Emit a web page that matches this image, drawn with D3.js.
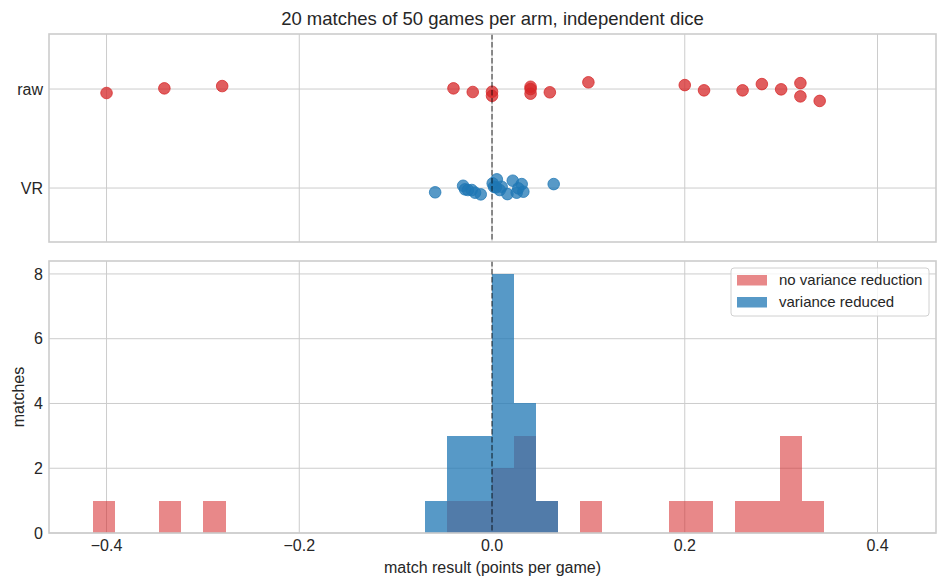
<!DOCTYPE html>
<html>
<head>
<meta charset="utf-8">
<script src="https://cdn.jsdelivr.net/npm/d3@7"></script>
<style>
  body { margin: 0; background: #fff; }
  svg text { font-family: "Liberation Sans", Arial, sans-serif; fill: #262626; }
</style>
</head>
<body>
<svg id="chart"></svg>
<script>
(function (d3) {

    /***** Data *****/
    // match results, points per game
    var rawValues = [-0.40, -0.34, -0.28, -0.04, -0.02, 0.00, 0.00, 0.04, 0.04, 0.04,
                     0.06, 0.10, 0.20, 0.22, 0.26, 0.28, 0.30, 0.32, 0.32, 0.34];
    var rawJitter = [-0.040, 0.007, 0.030, 0.007, -0.030, -0.027, -0.068, 0.023, 0.000, -0.047,
                     -0.033, 0.068, 0.040, -0.013, -0.013, 0.050, -0.003, 0.060, -0.074, -0.120];
    var vrValues = [-0.059, -0.030, -0.028, -0.025, -0.021, -0.0176, -0.0117, 0.0007, 0.005, 0.002,
                    0.004, 0.010, 0.0215, 0.016, 0.008, 0.0256, 0.0308, 0.0325, 0.0273, 0.064];
    var vrJitter = [-0.043, 0.023, -0.013, -0.020, -0.020, -0.047, -0.064, 0.047, 0.088, 0.013,
                    0.007, 0.013, 0.074, -0.061, -0.020, -0.047, 0.040, -0.037, -0.003, 0.040];
    var stripCategories = ["VR", "raw"];
    var xTicks = [-0.4, -0.2, 0.0, 0.2, 0.4];
    var countTicks = [0, 2, 4, 6, 8];
    var binLo = -0.4145, binWidth = 0.023, binCount = 33;
    var legendLabels = ["no variance reduction", "variance reduced"];

    /***** Configuration *****/
    var width = 947, height = 587;
    var plotLeft = 49, plotRight = 936;
    var top1 = 34, bottom1 = 242;
    var top2 = 261, bottom2 = 533;
    var red = "#d62728", blue = "#1f77b4";
    var gridColor = "#cccccc";
    var tickFont = "16px";

    var svg = d3.select("#chart").attr("width", width).attr("height", height);

    /***** Scales *****/
    var x = d3.scaleLinear().domain([-0.4597, 0.4607]).range([plotLeft, plotRight]);
    var yStrip = d3.scaleLinear().domain([-0.545, 1.556]).range([bottom1, top1]);
    var yCount = d3.scaleLinear().domain([0, 8.4]).range([bottom2, top2]);
    var fmt = function (v) { return d3.format(".1f")(v).replace("-", "\u2212"); };

    /***** Helpers *****/
    function drawFrame(top, bottom, yScale, yTickValues, yLabel) {
        var g = svg.append("g");
        g.selectAll("line.vgrid").data(xTicks).enter().append("line")
            .attr("x1", function (d) { return x(d); }).attr("x2", function (d) { return x(d); })
            .attr("y1", top).attr("y2", bottom)
            .attr("stroke", gridColor).attr("stroke-width", 1);
        g.selectAll("line.hgrid").data(yTickValues).enter().append("line")
            .attr("x1", plotLeft).attr("x2", plotRight)
            .attr("y1", function (d) { return yScale(d); }).attr("y2", function (d) { return yScale(d); })
            .attr("stroke", gridColor).attr("stroke-width", 1);
        g.selectAll("text.ytick").data(yTickValues).enter().append("text")
            .attr("x", plotLeft - 6)
            .attr("y", function (d) { return yScale(d); })
            .attr("dy", "0.35em").attr("text-anchor", "end")
            .style("font-size", tickFont)
            .text(yLabel);
        return g;
    }

    function drawBorder(top, bottom) {
        svg.append("rect")
            .attr("x", plotLeft).attr("y", top)
            .attr("width", plotRight - plotLeft).attr("height", bottom - top)
            .attr("fill", "none").attr("stroke", gridColor).attr("stroke-width", 1.6);
    }

    function drawZeroLine(top, bottom) {
        svg.append("line")
            .attr("x1", x(0)).attr("x2", x(0)).attr("y1", top).attr("y2", bottom)
            .attr("stroke", "#000").attr("stroke-opacity", 0.5)
            .attr("stroke-width", 1.6).attr("stroke-dasharray", "5.5,2.5");
    }

    /***** Top: strip plot *****/
    drawFrame(top1, bottom1, yStrip, [0, 1], function (d) { return stripCategories[d]; });

    function drawStrip(values, jitter, level, color) {
        svg.append("g").selectAll("circle").data(values).enter().append("circle")
            .attr("cx", function (d) { return x(d); })
            .attr("cy", function (d, i) { return yStrip(level + jitter[i]); })
            .attr("r", 5.8)
            .attr("fill", color).attr("fill-opacity", 0.75)
            .attr("stroke", color).attr("stroke-opacity", 0.75).attr("stroke-width", 1);
    }
    drawStrip(rawValues, rawJitter, 1, red);
    drawStrip(vrValues, vrJitter, 0, blue);
    drawZeroLine(top1, bottom1);
    drawBorder(top1, bottom1);

    svg.append("text")
        .attr("x", (plotLeft + plotRight) / 2).attr("y", 25)
        .attr("text-anchor", "middle")
        .style("font-size", "18.5px")
        .text("20 matches of 50 games per arm, independent dice");

    /***** Bottom: histogram *****/
    drawFrame(top2, bottom2, yCount, countTicks, function (d) { return d; });

    var thresholds = d3.range(binCount + 1).map(function (i) { return binLo + i * binWidth; });
    var bin = d3.bin().domain([thresholds[0], thresholds[binCount]]).thresholds(thresholds.slice(1, -1));

    function drawHist(values, color, opacity) {
        var bins = bin(values).filter(function (b) { return b.length > 0; });
        svg.append("g").selectAll("rect").data(bins).enter().append("rect")
            .attr("x", function (b) { return x(b.x0); })
            .attr("width", function (b) { return x(b.x1) - x(b.x0); })
            .attr("y", function (b) { return yCount(b.length); })
            .attr("height", function (b) { return yCount(0) - yCount(b.length); })
            .attr("fill", color).attr("fill-opacity", opacity)
            .attr("shape-rendering", "crispEdges");
    }
    drawHist(rawValues, red, 0.55);
    drawHist(vrValues, blue, 0.75);
    drawZeroLine(top2, bottom2);
    drawBorder(top2, bottom2);

    // x ticks
    svg.append("g").selectAll("text").data(xTicks).enter().append("text")
        .attr("x", function (d) { return x(d); }).attr("y", 551)
        .attr("text-anchor", "middle")
        .style("font-size", tickFont)
        .text(fmt);

    svg.append("text")
        .attr("x", (plotLeft + plotRight) / 2).attr("y", 573)
        .attr("text-anchor", "middle")
        .style("font-size", tickFont)
        .text("match result (points per game)");

    svg.append("text")
        .attr("transform", "translate(24," + ((top2 + bottom2) / 2) + ") rotate(-90)")
        .attr("text-anchor", "middle")
        .style("font-size", tickFont)
        .text("matches");

    /***** Legend *****/
    var legend = svg.append("g").attr("transform", "translate(731,268)");
    legend.append("rect")
        .attr("width", 198).attr("height", 48).attr("rx", 3)
        .attr("fill", "#fff").attr("fill-opacity", 0.8)
        .attr("stroke", "#d0d0d0").attr("stroke-width", 1);
    var legendColors = [[red, 0.55], [blue, 0.75]];
    legendLabels.forEach(function (label, i) {
        legend.append("rect")
            .attr("x", 6).attr("y", 7 + i * 22).attr("width", 30).attr("height", 10.5)
            .attr("fill", legendColors[i][0]).attr("fill-opacity", legendColors[i][1]);
        legend.append("text")
            .attr("x", 48).attr("y", 12 + i * 22).attr("dy", "0.35em")
            .style("font-size", "15px")
            .text(label);
    });

})(d3);
</script>
</body>
</html>
